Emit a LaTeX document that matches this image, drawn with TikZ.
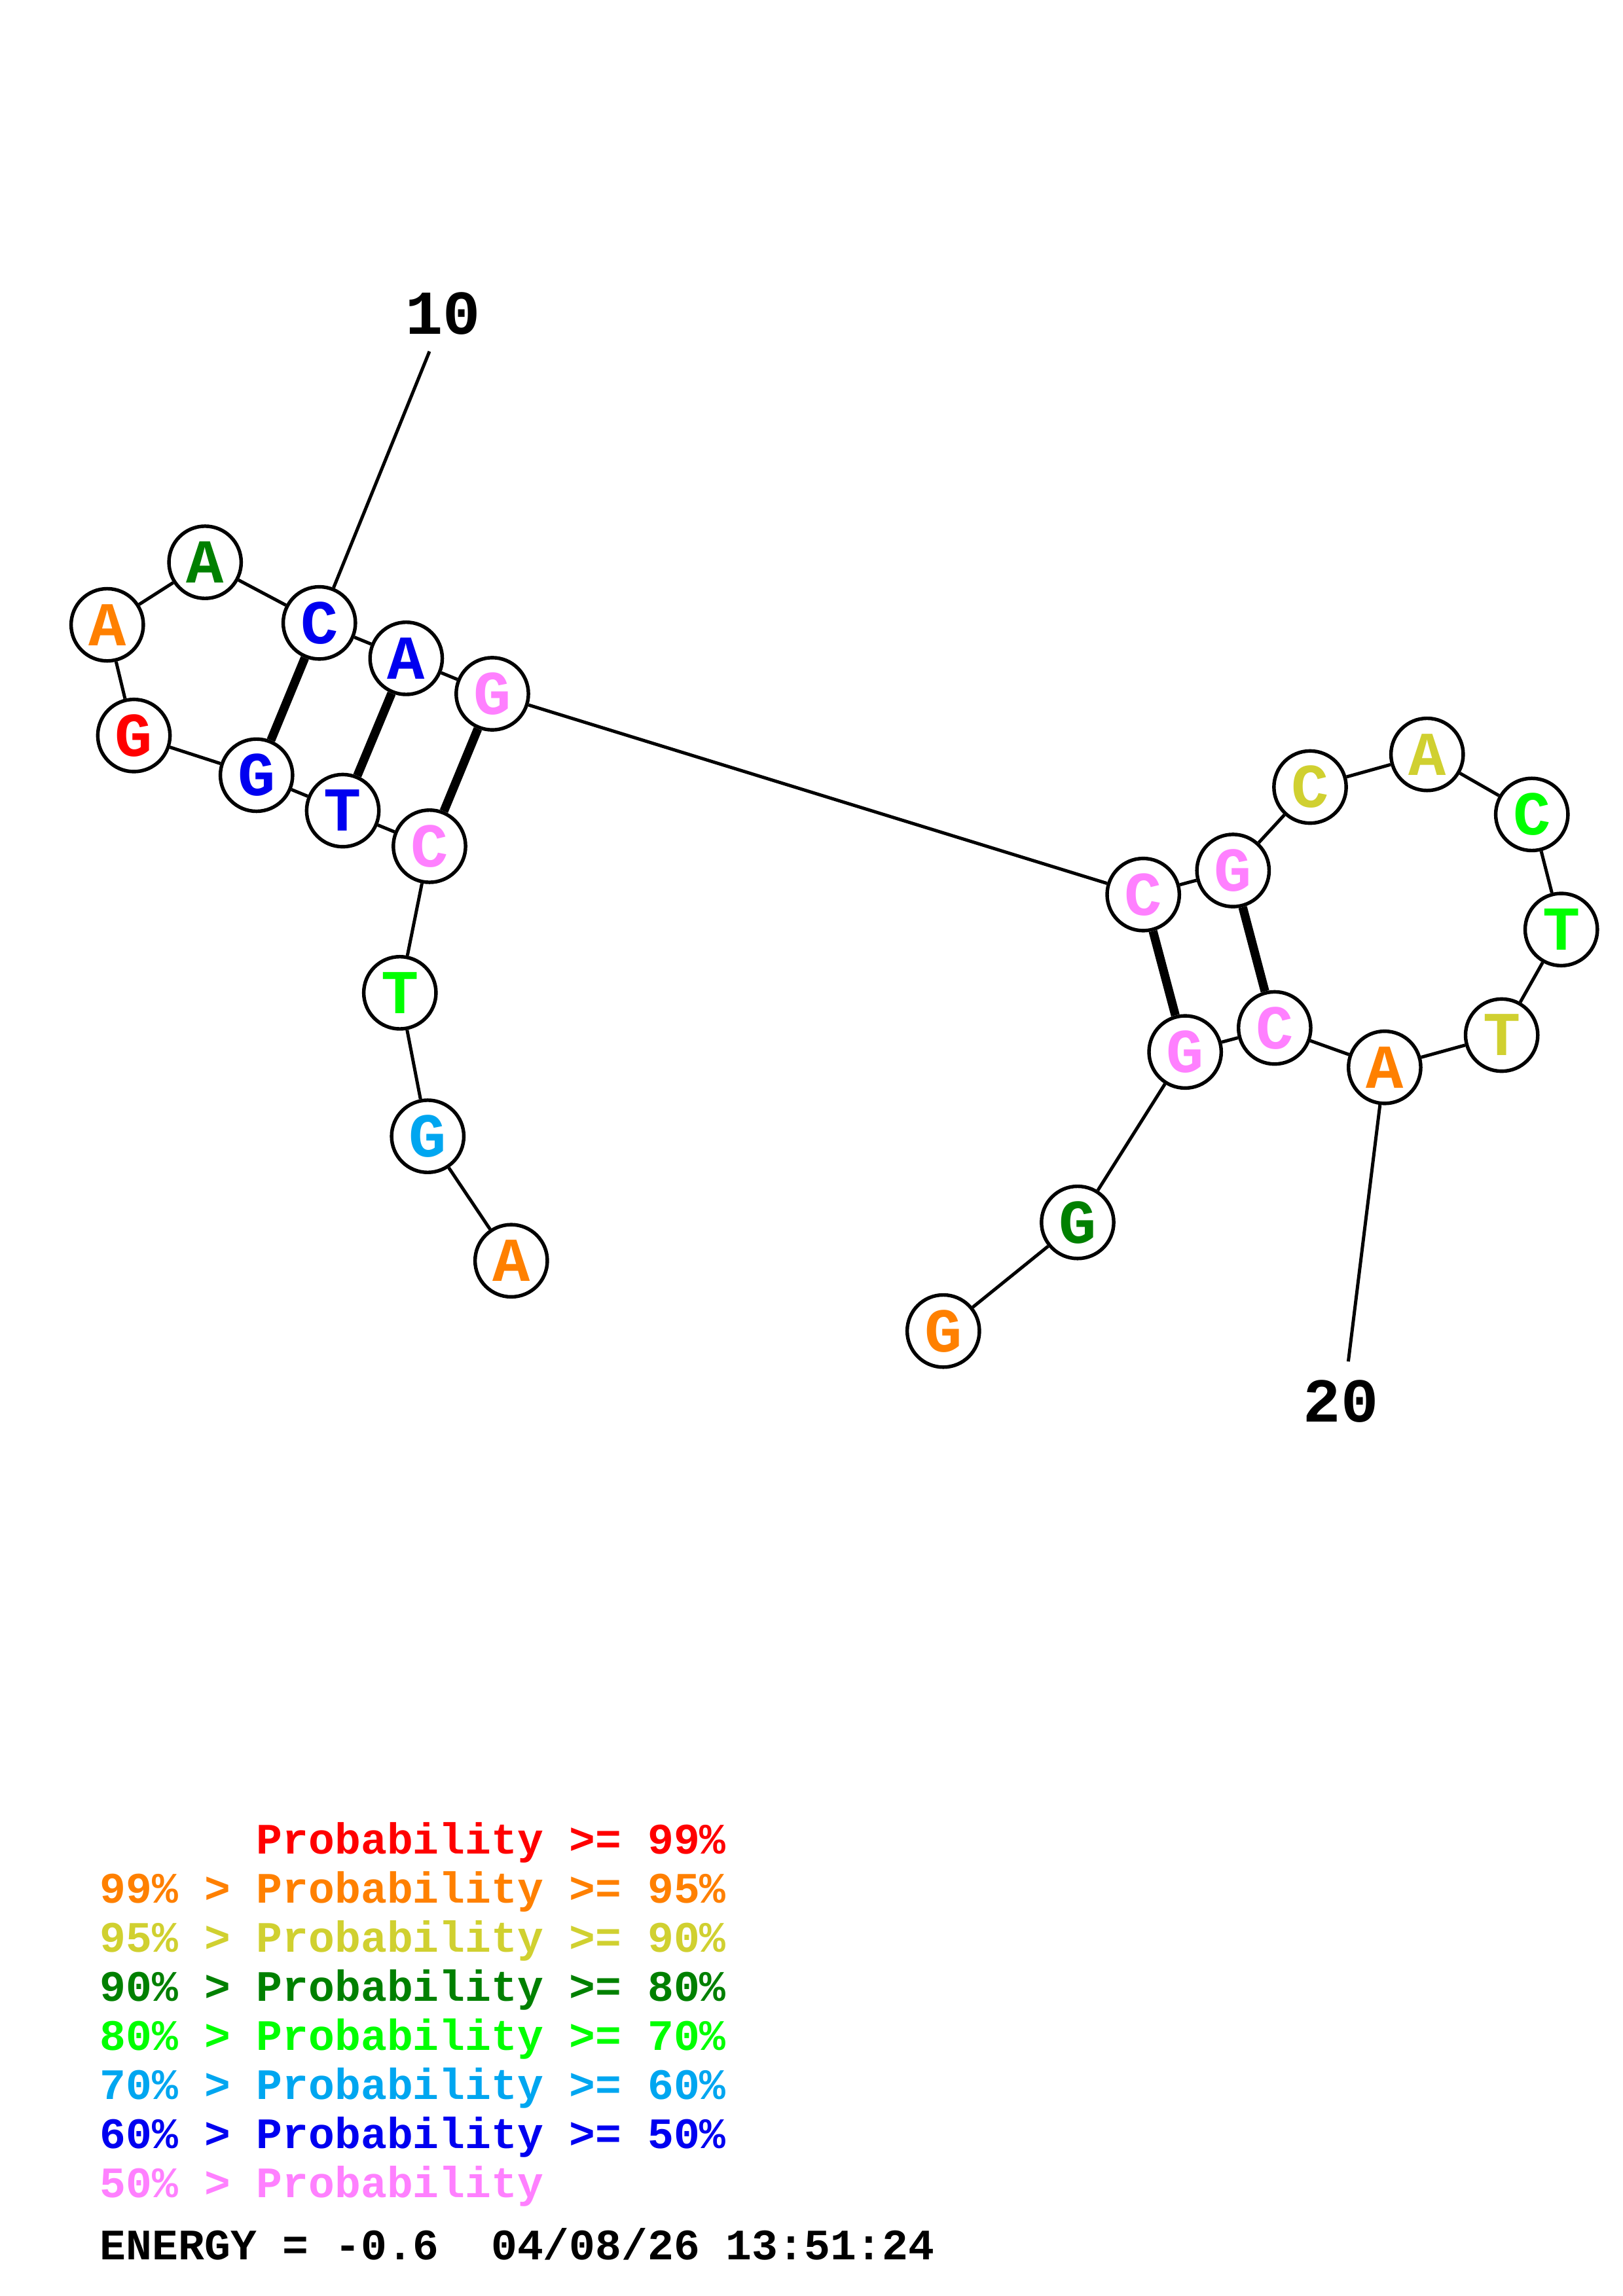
\documentclass[tikz,border=0pt]{standalone}
\usepackage{fontspec}
\setmainfont{Liberation Mono}
\definecolor{cred}{RGB}{255,0,0}
\definecolor{corange}{RGB}{255,128,0}
\definecolor{cyellow}{RGB}{208,208,48}
\definecolor{cdgreen}{RGB}{0,128,0}
\definecolor{cgreen}{RGB}{0,255,0}
\definecolor{ccyan}{RGB}{0,166,240}
\definecolor{cblue}{RGB}{0,0,240}
\definecolor{cpink}{RGB}{255,128,255}
\tikzset{
  base/.style={circle,draw=black,line width=1.3bp,fill=white,minimum size=26.5bp,inner sep=0pt,
    font=\fontsize{23}{23}\selectfont\bfseries},
  bb/.style={line width=1.2bp},
  pairline/.style={line width=3.2bp},
  numlab/.style={inner sep=0pt,anchor=base,font=\fontsize{23}{23}\selectfont\bfseries},
  leg/.style={inner sep=0pt,anchor=base west,font=\fontsize{16}{16}\selectfont\bfseries}
}
\begin{document}
\begin{tikzpicture}[x=0.5373bp,y=-0.5373bp]
\useasboundingbox (0,0) rectangle (1108,1568);
% nodes
\node[base,text=corange] (n1) at (349,861) {A};
\node[base,text=ccyan] (n2) at (292,776) {G};
\node[base,text=cgreen] (n3) at (273,678) {T};
\node[base,text=cpink] (n4) at (293.2,577.9) {C};
\node[base,text=cblue] (n5) at (234.0,553.6) {T};
\node[base,text=cblue] (n6) at (175.1,529.4) {G};
\node[base,text=cred] (n7) at (91.4,502.3) {G};
\node[base,text=corange] (n8) at (73.2,426.7) {A};
\node[base,text=cdgreen] (n9) at (140.0,384.0) {A};
\node[base,text=cblue] (n10) at (218.0,425.4) {C};
\node[base,text=cblue] (n11) at (277.3,449.6) {A};
\node[base,text=cpink] (n12) at (336.1,473.8) {G};
\node[base,text=cpink] (n13) at (780.5,610.9) {C};
\node[base,text=cpink] (n14) at (841.8,594.5) {G};
\node[base,text=cyellow] (n15) at (894.4,537.5) {C};
\node[base,text=cyellow] (n16) at (974.3,515.2) {A};
\node[base,text=cgreen] (n17) at (1045.8,556.2) {C};
\node[base,text=cgreen] (n18) at (1065.9,634.8) {T};
\node[base,text=cyellow] (n19) at (1025.2,706.9) {T};
\node[base,text=corange] (n20) at (945.3,728.9) {A};
\node[base,text=cpink] (n21) at (870.2,702.0) {C};
\node[base,text=cpink] (n22) at (809.1,718.4) {G};
\node[base,text=cdgreen] (n23) at (735.7,834.8) {G};
\node[base,text=corange] (n24) at (644,909) {G};
% backbone
\foreach \a/\b in {1/2,2/3,3/4,4/5,5/6,6/7,7/8,8/9,9/10,10/11,11/12,12/13,13/14,14/15,15/16,16/17,17/18,18/19,19/20,20/21,21/22,22/23,23/24}
  \draw[bb] (n\a) -- (n\b);
% pairs
\foreach \a/\b in {10/6,11/5,12/4,13/22,14/21}
  \draw[pairline] (n\a) -- (n\b);
% number labels
\coordinate (e10) at (293.2,240);
\coordinate (e20) at (920.5,929.8);
\draw[bb] (n10) -- (e10);
\draw[bb] (n20) -- (e20);
\node[numlab] (l10) at (302.6,228) {10};
\node[numlab] (l20) at (915.5,971) {20};
% legend
\node[leg,text=cred] (g1) at (68,1266) {\hphantom{99\% > }Probability >= 99\%};
\node[leg,text=corange] (g2) at (68,1299.5) {99\% > Probability >= 95\%};
\node[leg,text=cyellow] (g3) at (68,1333) {95\% > Probability >= 90\%};
\node[leg,text=cdgreen] (g4) at (68,1366.5) {90\% > Probability >= 80\%};
\node[leg,text=cgreen] (g5) at (68,1400) {80\% > Probability >= 70\%};
\node[leg,text=ccyan] (g6) at (68,1433.5) {70\% > Probability >= 60\%};
\node[leg,text=cblue] (g7) at (68,1467) {60\% > Probability >= 50\%};
\node[leg,text=cpink] (g8) at (68,1500.5) {50\% > Probability};
\node[leg,text=black] (en) at (68,1543) {ENERGY = -0.6\ \ 04/08/26 13:51:24};
\end{tikzpicture}
\end{document}
